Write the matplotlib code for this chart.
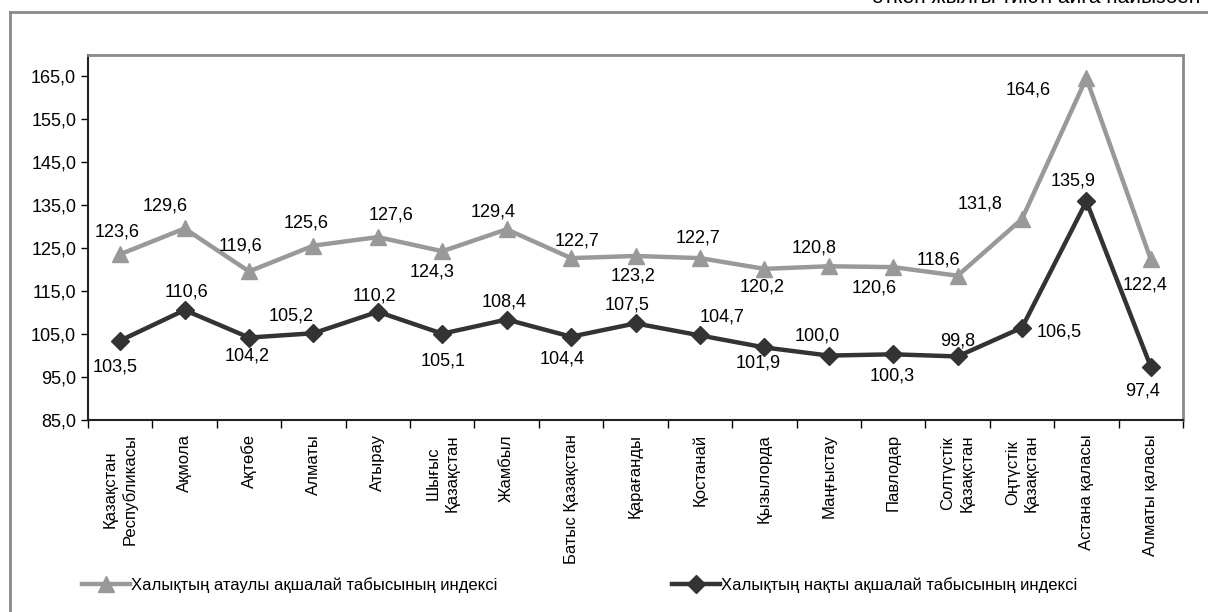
import matplotlib
matplotlib.use("Agg")
import matplotlib.pyplot as plt
from matplotlib.lines import Line2D
from matplotlib.ticker import FixedLocator, FuncFormatter, NullFormatter
import numpy as np

plt.rcParams["font.family"] = ["Liberation Sans", "DejaVu Sans"]

# ---------------------------------------------------------------------------
# Data
# ---------------------------------------------------------------------------
regions = [
    "Қазақстан\nРеспубликасы", "Ақмола", "Ақтөбе", "Алматы", "Атырау",
    "Шығыс\nҚазақстан", "Жамбыл", "Батыс Қазақстан", "Қарағанды", "Қостанай",
    "Қызылорда", "Маңғыстау", "Павлодар", "Солтүстік\nҚазақстан",
    "Оңтүстік\nҚазақстан", "Астана қаласы", "Алматы қаласы",
]
nominal = [123.6, 129.6, 119.6, 125.6, 127.6, 124.3, 129.4, 122.7, 123.2,
           122.7, 120.2, 120.8, 120.6, 118.6, 131.8, 164.6, 122.4]
real = [103.5, 110.6, 104.2, 105.2, 110.2, 105.1, 108.4, 104.4, 107.5,
        104.7, 101.9, 100.0, 100.3, 99.8, 106.5, 135.9, 97.4]
yticks = [85, 95, 105, 115, 125, 135, 145, 155, 165]

nominal_name = "Халықтың атаулы ақшалай табысының индексі"
real_name = "Халықтың нақты ақшалай табысының индексі"
unit_note = "өткен жылғы тиісті айға пайызбен"

# label offsets in pixels (dx, dy; dy positive = up)
nom_off = [(-3, 22), (-19, 22), (-9, 25), (-7, 23), (13, 22), (-10, -21),
           (-14, 17), (6, 17), (-2, -20), (-2, 20), (-2, -18), (-15, 18),
           (-19, -21), (-19, 16), (-42, 15), (-58, -12), (-6, -26)]
real_off = [(-5, -26), (2, 18), (-2, -18), (-22, 17), (-3, 16), (1, -27),
            (-3, 18), (-9, -22), (-8, 18), (22, 18), (-6, -16), (-11, 20),
            (-1, -22), (0, 15), (37, -4), (-13, 20), (-8, -24)]

NOM_C = "#999999"
REAL_C = "#333333"
FRAME_C = "#8a8a8a"

W, H = 1208, 612
fig = plt.figure(figsize=(W / 100, H / 100), dpi=100)
ax = fig.add_axes([88 / W, 1 - 420 / H, (1183 - 88) / W, (420 - 55) / H])

x = np.arange(len(regions))
ax.plot(x, nominal, color=NOM_C, lw=3.2, marker="^", ms=12, mec=NOM_C,
        mfc=NOM_C, zorder=3)
ax.plot(x, real, color=REAL_C, lw=3.2, marker="D", ms=9, mec=REAL_C,
        mfc=REAL_C, zorder=4)

fmt = lambda v: f"{v:.1f}".replace(".", ",")
for vals, offs in ((nominal, nom_off), (real, real_off)):
    for i, v in enumerate(vals):
        dx, dy = offs[i]
        ax.annotate(fmt(v), (x[i], v), xytext=(dx, dy),
                    textcoords="offset pixels", ha="center", va="center",
                    fontsize=13, color="black", zorder=5)

ax.set_xlim(-0.5, len(regions) - 0.5)
ax.set_ylim(85, 170)
ax.set_yticks(yticks)
ax.yaxis.set_major_formatter(FuncFormatter(lambda v, p: fmt(v)))
ax.tick_params(axis="y", labelsize=13, length=5, width=1, color="black")

ax.xaxis.set_major_locator(FixedLocator(np.arange(len(regions) + 1) - 0.5))
ax.xaxis.set_major_formatter(NullFormatter())
ax.xaxis.set_minor_locator(FixedLocator(x))
ax.set_xticklabels(regions, minor=True, rotation=90, ha="center", va="top",
                   fontsize=12, linespacing=1.35)
ax.tick_params(axis="x", which="major", length=6, width=1, color="black")
ax.tick_params(axis="x", which="minor", length=0, pad=10)

for s in ["top", "right"]:
    ax.spines[s].set_color(FRAME_C)
    ax.spines[s].set_linewidth(2)
for s in ["left", "bottom"]:
    ax.spines[s].set_color("#222222")
    ax.spines[s].set_linewidth(1.5)

# outer frame (top and left edges)
fig.add_artist(Line2D([10 / W, 1], [1 - 12 / H, 1 - 12 / H], color=FRAME_C,
                      lw=2, transform=fig.transFigure))
fig.add_artist(Line2D([10 / W, 10 / W], [0, 1 - 12 / H], color=FRAME_C,
                      lw=2, transform=fig.transFigure))

# unit note at top right, cut by the picture edge as in the source
fig.text(872 / W, 1 - 3 / H, unit_note, fontsize=15, ha="left", va="baseline")

# legends
h_nom = Line2D([], [], color=NOM_C, lw=3.2, marker="^", ms=12)
h_real = Line2D([], [], color=REAL_C, lw=3.2, marker="D", ms=9)
fig.legend([h_nom], [nominal_name], loc="center left",
           bbox_to_anchor=(82 / W, 1 - 585 / H), frameon=False, fontsize=12,
           handlelength=2.9, handletextpad=0.05, borderaxespad=0, borderpad=0)
fig.legend([h_real], [real_name], loc="center left",
           bbox_to_anchor=(672 / W, 1 - 585 / H), frameon=False, fontsize=12,
           handlelength=2.9, handletextpad=0.05, borderaxespad=0, borderpad=0)

fig.savefig("out.png", dpi=100)
